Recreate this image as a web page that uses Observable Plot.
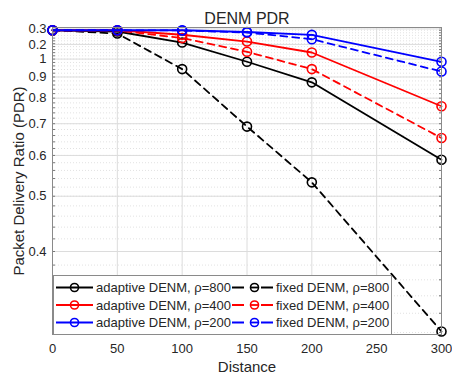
<!DOCTYPE html>
<html>
<head>
<meta charset="utf-8">
<script src="https://cdn.jsdelivr.net/npm/d3@7"></script>
<script src="https://cdn.jsdelivr.net/npm/@observablehq/plot@0.6"></script>
<style>
  html, body { margin: 0; padding: 0; background: white; }
  #wrap { position: relative; width: 452px; height: 373px; font-family: "Liberation Sans", Arial, sans-serif; }
  #legend { position: absolute; left: 53px; top: 275px; }
</style>
</head>
<body>
<div id="wrap"></div>
<script>
// ---- data ----
const distance = [0, 50, 100, 150, 200, 300];
const adaptive800 = [1.2, 1.19, 1.108, 0.984, 0.873, 0.588];
const fixed800    = [1.2, 1.174, 0.942, 0.690, 0.531, 0.301];
const adaptive400 = [1.2, 1.2, 1.165, 1.115, 1.041, 0.766];
const fixed400    = [1.2, 1.198, 1.14, 1.0455, 0.942, 0.652];
const adaptive200 = [1.2, 1.2, 1.2, 1.186, 1.164, 0.984];
const fixed200    = [1.2, 1.2, 1.198, 1.182, 1.132, 0.929];

const seriesNames = ["adaptive DENM, ρ=800", "fixed DENM, ρ=800",
                     "adaptive DENM, ρ=400", "fixed DENM, ρ=400",
                     "adaptive DENM, ρ=200", "fixed DENM, ρ=200"];
const seriesValues = [adaptive800, fixed800, adaptive400, fixed400, adaptive200, fixed200];
const seriesColors = ["#000000", "#000000", "#ff0000", "#ff0000", "#0000ff", "#0000ff"];
const seriesDashed = [false, true, false, true, false, true];

const xTicks = [0, 50, 100, 150, 200, 250, 300];
const yTicks = [0.4, 0.5, 0.6, 0.7, 0.8, 0.9, 1.0, 1.095, 1.21];
const yTickLabels = ["0.4", "0.5", "0.6", "0.7", "0.8", "0.9", "1", "0.2", "0.3"];
const yMinor = d3.range(0.30, 1.221, 0.02).map(v => +v.toFixed(2));

const titleText = "DENM PDR";
const xLabel = "Distance";
const yLabel = "Packet Delivery Ratio (PDR)";

// ---- build ----
const rows = [];
seriesValues.forEach((vals, i) => {
  vals.forEach((v, j) => rows.push({series: i, distance: distance[j], pdr: v}));
});

const labelOf = new Map(yTicks.map((t, i) => [t, yTickLabels[i]]));
const ink = "#262626";

const marks = [
  Plot.gridY(yMinor, {stroke: "#e2e2e2", strokeOpacity: 1, strokeDasharray: "1,2"}),
  Plot.gridX(xTicks, {stroke: "#dcdcdc", strokeOpacity: 1}),
  Plot.gridY(yTicks, {stroke: "#dcdcdc", strokeOpacity: 1}),
  Plot.axisX(xTicks, {tickSize: 0, tickPadding: 9, fontSize: 13, fill: ink, label: null}),
  Plot.axisY(yTicks, {tickSize: 0, tickPadding: 6, fontSize: 13, fill: ink, label: null,
                      tickFormat: d => labelOf.get(d)}),
  Plot.axisY(yMinor, {tickSize: -3, text: null, label: null, stroke: "#777"}),
  Plot.axisY(yMinor, {anchor: "right", tickSize: -3, text: null, label: null, stroke: "#777"}),
  Plot.axisX(xTicks, {tickSize: -4, text: null, label: null, stroke: "#777"}),
];

seriesValues.forEach((vals, i) => {
  const d = rows.filter(r => r.series === i);
  marks.push(Plot.line(d, {x: "distance", y: "pdr", stroke: seriesColors[i], strokeWidth: 1.8,
    strokeDasharray: seriesDashed[i] ? "7,5" : null}));
  marks.push(Plot.dot(d, {x: "distance", y: "pdr", r: 4.5, stroke: seriesColors[i], strokeWidth: 1.6, fill: "none"}));
});

marks.push(
  Plot.frame({stroke: "#8a8a8a"}),
  Plot.text([titleText], {frameAnchor: "top", dy: -4, lineAnchor: "bottom", fontSize: 16, fill: ink}),
  Plot.text([xLabel], {frameAnchor: "bottom", dy: 37, lineAnchor: "bottom", fontSize: 15, fill: ink}),
  Plot.text([yLabel], {frameAnchor: "left", dx: -33, rotate: -90, textAnchor: "middle", lineAnchor: "middle", fontSize: 15, fill: ink})
);

const chart = Plot.plot({
  width: 452, height: 373,
  marginLeft: 52, marginRight: 11, marginTop: 27, marginBottom: 39,
  style: {fontFamily: '"Liberation Sans", Arial, sans-serif', background: "white", color: ink},
  x: {domain: [0, 300]},
  y: {type: "pow", exponent: -0.5, domain: [0.298, 1.222]},
  marks
});
document.getElementById("wrap").appendChild(chart);

// ---- legend ----
const lg = d3.select("#wrap").append("svg").attr("id", "legend")
  .attr("width", 340).attr("height", 61)
  .style("font-family", '"Liberation Sans", Arial, sans-serif');
lg.append("rect").attr("x", 0.5).attr("y", 0.5).attr("width", 338).attr("height", 59)
  .attr("fill", "white").attr("stroke", "#8a8a8a");
const rowY = [12.5, 30, 47.5];
seriesNames.forEach((name, i) => {
  const row = Math.floor(i / 2), col = i % 2;
  const y = rowY[row];
  const g = lg.append("g");
  if (col === 0) {
    g.append("line").attr("x1", 3).attr("x2", 40).attr("y1", y).attr("y2", y)
      .attr("stroke", seriesColors[i]).attr("stroke-width", 1.8);
    g.append("circle").attr("cx", 21.5).attr("cy", y).attr("r", 4)
      .attr("fill", "none").attr("stroke", seriesColors[i]).attr("stroke-width", 1.6);
    g.append("text").attr("x", 43).attr("y", y).attr("dy", "0.35em")
      .attr("font-size", 13).attr("fill", ink).text(name);
  } else {
    g.append("line").attr("x1", 179).attr("x2", 220).attr("y1", y).attr("y2", y)
      .attr("stroke", seriesColors[i]).attr("stroke-width", 1.8).attr("stroke-dasharray", "12,17");
    g.append("circle").attr("cx", 201.5).attr("cy", y).attr("r", 4)
      .attr("fill", "none").attr("stroke", seriesColors[i]).attr("stroke-width", 1.6);
    g.append("line").attr("x1", 197.5).attr("x2", 205.5).attr("y1", y).attr("y2", y)
      .attr("stroke", seriesColors[i]).attr("stroke-width", 1.8);
    g.append("text").attr("x", 223).attr("y", y).attr("dy", "0.35em")
      .attr("font-size", 13).attr("fill", ink).text(name);
  }
});
</script>
</body>
</html>
